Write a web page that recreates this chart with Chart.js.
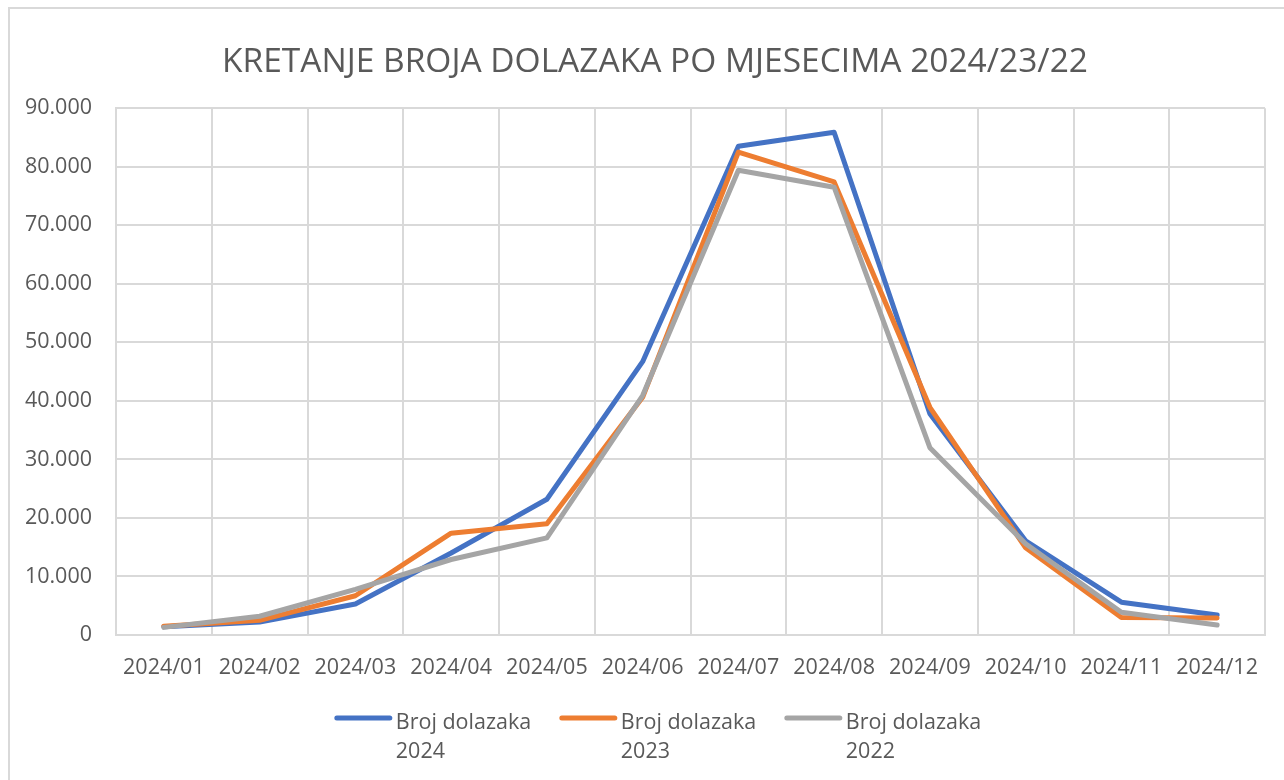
<!DOCTYPE html>
<html>
<head>
<meta charset="utf-8">
<script src="https://cdn.jsdelivr.net/npm/chart.js@4/dist/chart.umd.min.js"></script>
<style>
  html, body { margin: 0; padding: 0; background: #ffffff; }
  #wrap { position: relative; width: 1284px; height: 780px; }
</style>
</head>
<body>
<div id="wrap"><canvas id="c" width="1284" height="780"></canvas></div>
<script>
// ---- Data ----
const titleText = 'KRETANJE BROJA DOLAZAKA PO MJESECIMA 2024/23/22';
const months = ['2024/01','2024/02','2024/03','2024/04','2024/05','2024/06','2024/07','2024/08','2024/09','2024/10','2024/11','2024/12'];
const seriesNames = ['Broj dolazaka 2024', 'Broj dolazaka 2023', 'Broj dolazaka 2022'];
const arrivals2024 = [1400, 2200, 5300, 14000, 23200, 46700, 83500, 85900, 37800, 16100, 5600, 3400];
const arrivals2023 = [1500, 2500, 6700, 17400, 19000, 40600, 82500, 77400, 38900, 14900, 3000, 2900];
const arrivals2022 = [1300, 3200, 7800, 12900, 16600, 40900, 79400, 76500, 32000, 15600, 3900, 1700];
const yTickValues = [0, 10000, 20000, 30000, 40000, 50000, 60000, 70000, 80000, 90000];

const colors = ['#4472C4', '#ED7D31', '#A5A5A5'];
const textColor = '#595959';
const gridColor = '#D9D9D9';
const tickFont = { family: "'Open Sans', 'Liberation Sans', sans-serif", size: 21.5 };
const titleFont = { family: "'Open Sans', 'Liberation Sans', sans-serif", size: 33.5, weight: 'normal' };

function fmtThousands(v) {
  return String(Math.round(v)).replace(/\B(?=(\d{3})+(?!\d))/g, '.');
}

const framePlugin = {
  id: 'frame',
  beforeDraw(chart) {
    const ctx = chart.ctx;
    ctx.save();
    ctx.fillStyle = '#ffffff';
    ctx.fillRect(0, 0, chart.width, chart.height);
    ctx.strokeStyle = '#D9D9D9';
    ctx.lineWidth = 2;
    ctx.strokeRect(9, 8, chart.width + 40, chart.height + 40);
    ctx.restore();
  }
};

const legendPlugin = {
  id: 'multiLegend',
  afterDraw(chart) {
    const ctx = chart.ctx;
    const pad = chart.options.layout.padding;
    const center = (pad.left + chart.width - pad.right) / 2;
    const itemStep = 225, lineLen = 53, gap = 6;
    ctx.save();
    ctx.font = `${tickFont.size}px ${tickFont.family}`;
    const ds = chart.data.datasets;
    const lastW = lineLen + gap + ctx.measureText('Broj dolazaka').width;
    const total = itemStep * (ds.length - 1) + lastW;
    let x = center - total / 2 + 4;
    const lineY = 718;
    ds.forEach((d, i) => {
      const x0 = x + i * itemStep;
      ctx.strokeStyle = d.borderColor;
      ctx.lineWidth = 5;
      ctx.lineCap = 'round';
      ctx.beginPath();
      ctx.moveTo(x0, lineY);
      ctx.lineTo(x0 + lineLen, lineY);
      ctx.stroke();
      const parts = d.label.split(' ');
      const l2 = parts.pop();
      const l1 = parts.join(' ');
      ctx.fillStyle = textColor;
      ctx.textAlign = 'left';
      ctx.textBaseline = 'middle';
      ctx.fillText(l1, x0 + lineLen + gap, lineY + 5);
      ctx.fillText(l2, x0 + lineLen + gap, lineY + 34);
    });
    ctx.restore();
  }
};

const values = [arrivals2024, arrivals2023, arrivals2022];
const datasets = values.map((arr, i) => ({
  label: seriesNames[i],
  data: arr,
  borderColor: colors[i],
  backgroundColor: colors[i],
  borderWidth: 5,
  borderCapStyle: 'round',
  borderJoinStyle: 'round',
  pointRadius: 0,
  pointHoverRadius: 0,
  tension: 0,
  fill: false,
  order: 3 - i
}));

new Chart(document.getElementById('c'), {
  type: 'line',
  data: { labels: months, datasets },
  options: {
    responsive: false,
    animation: false,
    events: [],
    layout: { padding: { left: 45, right: 19, top: 0, bottom: 80 } },
    plugins: {
      legend: { display: false },
      tooltip: { enabled: false },
      title: {
        display: true,
        text: titleText,
        color: textColor,
        font: titleFont,
        padding: { top: 42, bottom: 26 }
      }
    },
    scales: {
      x: {
        offset: true,
        grid: { offset: true, color: gridColor, lineWidth: 2, drawTicks: false },
        border: { color: gridColor, width: 2 },
        ticks: { color: textColor, font: tickFont, padding: 20, maxRotation: 0, autoSkip: false },
        afterFit(scale) { scale.height = 65; }
      },
      y: {
        min: 0,
        max: 90000,
        afterBuildTicks(scale) { scale.ticks = yTickValues.map(v => ({ value: v })); },
        grid: { color: gridColor, lineWidth: 2, drawTicks: false },
        border: { color: gridColor, width: 2 },
        ticks: { color: textColor, font: tickFont, padding: 24, callback: (v) => fmtThousands(v) },
        afterFit(scale) {
          scale.width = 71;
          scale._computeLabelArea = () => undefined;
        }
      }
    }
  },
  plugins: [framePlugin, legendPlugin]
});
</script>
</body>
</html>
